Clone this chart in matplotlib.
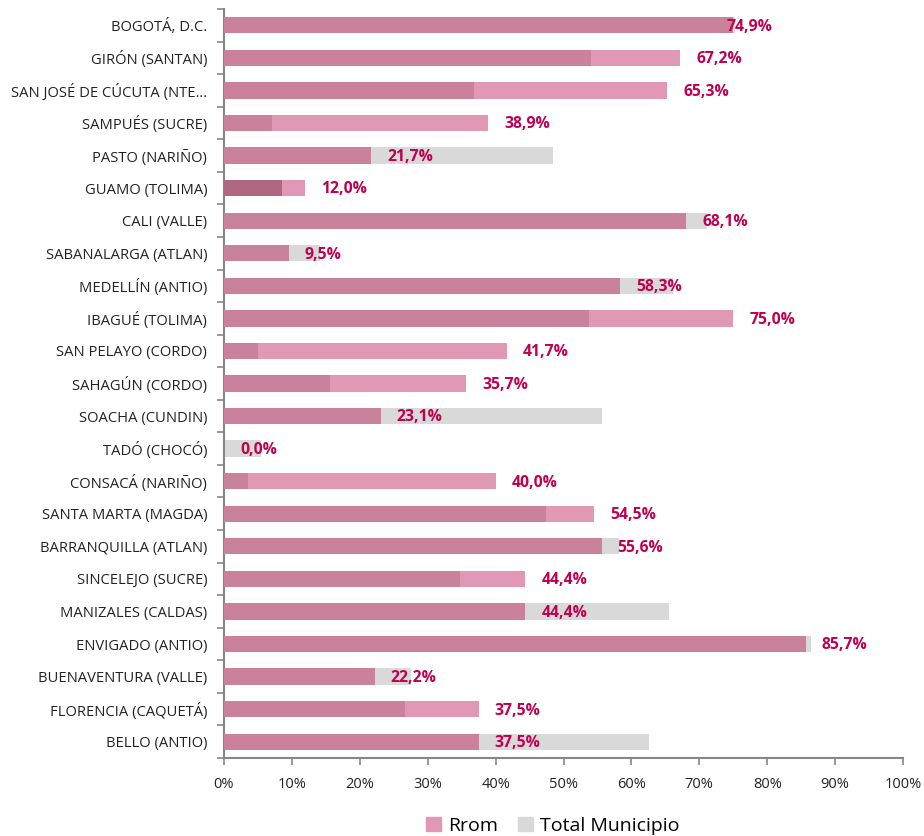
import matplotlib

matplotlib.use("Agg")
import matplotlib.pyplot as plt
import numpy as np
from matplotlib.patches import Patch
from matplotlib.ticker import FixedLocator, PercentFormatter

plt.rcParams["font.family"] = ["Open Sans", "DejaVu Sans"]

municipios = [
    "BOGOTÁ, D.C.", "GIRÓN (SANTAN)", "SAN JOSÉ DE CÚCUTA (NTE…",
    "SAMPUÉS (SUCRE)", "PASTO (NARIÑO)", "GUAMO (TOLIMA)", "CALI (VALLE)",
    "SABANALARGA (ATLAN)", "MEDELLÍN (ANTIO)", "IBAGUÉ (TOLIMA)",
    "SAN PELAYO (CORDO)", "SAHAGÚN (CORDO)", "SOACHA (CUNDIN)",
    "TADÓ (CHOCÓ)", "CONSACÁ (NARIÑO)", "SANTA MARTA (MAGDA)",
    "BARRANQUILLA (ATLAN)", "SINCELEJO (SUCRE)", "MANIZALES (CALDAS)",
    "ENVIGADO (ANTIO)", "BUENAVENTURA (VALLE)", "FLORENCIA (CAQUETÁ)",
    "BELLO (ANTIO)",
]
rrom = [74.9, 67.2, 65.3, 38.9, 21.7, 12.0, 68.1, 9.5, 58.3, 75.0, 41.7,
        35.7, 23.1, 0.0, 40.0, 54.5, 55.6, 44.4, 44.4, 85.7, 22.2, 37.5, 37.5]
total_municipio = [75.3, 54.0, 36.8, 7.0, 48.4, 8.5, 71.1, 14.1, 66.1, 53.8,
                   5.0, 15.6, 55.6, 5.4, 3.5, 47.4, 58.2, 34.7, 65.5, 86.5,
                   27.6, 26.7, 62.6]

PINK = "#e198b4"
GRAY = "#d9d9d9"
OVERLAP = "#c9819c"
LABEL = "#c0004e"
AXIS = "#868686"

fig = plt.figure(figsize=(9.24, 8.36), dpi=100)
ax = fig.add_axes([224 / 924, 78 / 836, 679 / 924, 749 / 836])

y = np.arange(len(municipios))
rrom_a = np.array(rrom)
tot_a = np.array(total_municipio)
# where both bars overlap the pink reads darker
overlap = np.minimum(rrom_a, tot_a)
overlap_colors = [OVERLAP] * len(municipios)
overlap_colors[municipios.index("GUAMO (TOLIMA)")] = "#b06882"

h = 0.5
ax.barh(y, tot_a, height=h, color=GRAY, zorder=2)
ax.barh(y, rrom_a, height=h, color=PINK, zorder=3)
ax.barh(y, overlap, height=h, color=overlap_colors, zorder=4)

for yi, (name, v) in enumerate(zip(municipios, rrom)):
    dx = -4 if name == "BOGOTÁ, D.C." else 11.5
    ax.annotate(f"{v:.1f}%".replace(".", ","), xy=(v, yi), xytext=(dx, -1),
                textcoords="offset points", ha="left", va="center",
                fontsize=11.3, fontweight="bold", color=LABEL, zorder=5)

ax.set_xlim(0, 100)
ax.set_ylim(len(municipios) - 0.5, -0.5)
ax.xaxis.set_major_locator(FixedLocator(np.arange(0, 101, 10)))
ax.xaxis.set_major_formatter(PercentFormatter(decimals=0))
ax.set_yticks(y)
ax.set_yticklabels(municipios)
ax.yaxis.set_minor_locator(FixedLocator(np.arange(-0.5, len(municipios), 1)))
ax.tick_params(axis="y", which="major", length=0, pad=12, labelsize=10.6,
               labelcolor="#222222")
ax.tick_params(axis="y", which="minor", length=5, color=AXIS, width=1.2)
ax.tick_params(axis="x", length=5, color=AXIS, width=1.2, labelsize=10.5,
               labelcolor="#222222", pad=9)

for side in ("top", "right"):
    ax.spines[side].set_visible(False)
for side in ("left", "bottom"):
    ax.spines[side].set_color(AXIS)
    ax.spines[side].set_linewidth(1.5)

handles = [Patch(color=PINK, label="Rrom"), Patch(color=GRAY, label="Total Municipio")]
fig.legend(handles=handles, loc="center", bbox_to_anchor=(0.5985, 10 / 836),
           ncol=2, frameon=False, fontsize=14, handlelength=0.75,
           handleheight=0.75, handletextpad=0.4, columnspacing=1.0)

fig.savefig("out.png", dpi=100)
